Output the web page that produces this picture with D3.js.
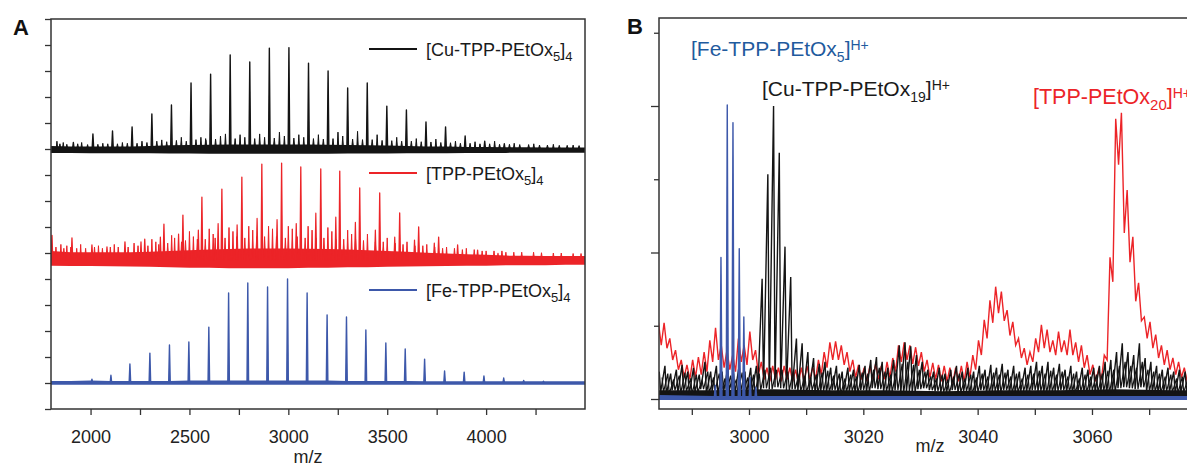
<!DOCTYPE html>
<html><head><meta charset="utf-8">
<script src="https://cdn.jsdelivr.net/npm/d3@7"></script>
<style>body{margin:0;background:#fff}svg{display:block}</style>
</head><body><svg id="c" width="1187" height="467"></svg>
<script>
// ================= Panel A data =================
const aXTicks = [2000, 2250, 2500, 2750, 3000, 3250, 3500, 3750, 4000, 4250];
const aXLabels = [2000, 2500, 3000, 3500, 4000];
const aYTicks = [0,1,2,3,4,5,6,7,8,9,10,11,12,13,14,15];
const aBandMz = [1800,1900,2000,2100,2200,2300,2400,2500,2600,2700,2800,2900,3000,3100,3200,3300,3400,3500,3600,3700,3800,3900,4000,4100,4200,4300,4400,4500];

// [Cu-TPP-PEtOx5]4 (black)
const cuMz  = [1913,2012,2111,2210,2310,2409,2508,2607,2706,2805,2904,3003,3102,3201,3300,3399,3498,3597,3696,3795,3894,3993,4092];
const cuInt = [0.25,0.58,0.69,0.85,1.35,1.69,2.54,2.88,3.62,3.35,3.88,3.9,3.3,3.0,2.35,2.54,1.65,1.5,1.04,0.85,0.5,0.3,0.2];
const cuMinorMz  = [1830,1862,1955,2062,2161,2260,2360,2459,2558,2582,2657,2682,2756,2780,2855,2880,2955,2980,3053,3078,3152,3251,3275,3350,3449,3548,3647,3746,3845,3944,4043,4142,4241,4340,4440];
const cuMinorInt = [0.3,0.25,0.25,0.22,0.25,0.3,0.35,0.45,0.45,0.4,0.5,0.58,0.55,0.45,0.58,0.45,0.65,0.5,0.55,0.45,0.55,0.65,0.5,0.68,0.55,0.45,0.4,0.38,0.3,0.28,0.3,0.22,0.2,0.18,0.15];
const cuNoiseMz  = [1845,1880,1935,1985,2037,2087,2136,2186,2235,2285,2335,2385,2434,2484,2533,2583,2632,2731,2830,2929,3028,3127,3177,3226,3325,3375,3424,3474,3523,3573,3622,3672,3721,3771,3820,3870,3919,3969,4018,4068,4118,4170,4215,4270,4310,4370,4410,4470];
const cuNoiseInt = [0.2,0.18,0.2,0.17,0.18,0.2,0.2,0.22,0.22,0.25,0.3,0.28,0.33,0.3,0.36,0.34,0.38,0.4,0.4,0.42,0.42,0.4,0.38,0.4,0.38,0.36,0.36,0.33,0.32,0.3,0.3,0.28,0.27,0.25,0.24,0.22,0.22,0.2,0.2,0.18,0.18,0.17,0.17,0.15,0.15,0.14,0.14,0.13];
const cuBandHi = [0.12,0.1,0.1,0.1,0.1,0.12,0.14,0.15,0.16,0.17,0.17,0.17,0.17,0.17,0.16,0.15,0.14,0.13,0.12,0.1,0.1,0.08,0.08,0.07,0.07,0.06,0.06,0.06];
const cuBandLo = [-0.15,-0.15,-0.16,-0.16,-0.16,-0.16,-0.17,-0.17,-0.18,-0.18,-0.18,-0.18,-0.18,-0.18,-0.18,-0.17,-0.17,-0.17,-0.16,-0.16,-0.16,-0.15,-0.15,-0.15,-0.14,-0.14,-0.14,-0.14];

// [TPP-PEtOx5]4 (red)
const tppMz  = [1805,1906,2007,2083,2174,2274,2371,2467,2563,2664,2765,2866,2966,3063,3164,3260,3361,3462,3563,3659,3760,3856,3957,4060];
const tppInt = [0.95,0.85,0.58,0.5,0.7,0.8,1.38,1.73,2.42,2.73,3.19,3.69,3.73,3.58,3.5,3.42,2.77,2.58,1.81,1.27,0.88,0.58,0.38,0.25];
const tppSatMz  = [2255,2353,2445,2545,2645,2741,2842,2943,3040,3139,3240,3339,3440,3538,3638,3738];
const tppSatInt = [0.7,0.88,1.0,1.15,1.4,1.35,1.6,1.55,1.4,1.8,1.65,1.45,1.15,0.88,0.77,0.65];
const tppMinorMz  = [1850,1880,1950,2040,2120,2220,2310,2330,2410,2425,2500,2520,2600,2620,2700,2720,2800,2820,2900,2920,3000,3020,3100,3120,3200,3220,3300,3320,3400,3500,3600,3700,3800,3900,4000,4100];
const tppMinorInt = [0.6,0.55,0.6,0.55,0.6,0.65,0.8,0.7,0.95,0.85,1.1,0.9,1.2,1.0,1.25,1.1,1.3,1.15,1.3,1.2,1.3,1.2,1.3,1.15,1.25,1.1,1.15,1.0,1.0,0.85,0.7,0.6,0.5,0.45,0.35,0.3];
const tppNoiseMz  = [1825,1865,1900,1930,1975,2020,2060,2100,2140,2190,2240,2290,2345,2390,2460,2480,2540,2580,2630,2680,2740,2780,2840,2880,2940,2985,3045,3085,3140,3180,3240,3280,3340,3380,3440,3480,3540,3580,3640,3680,3740,3780,3840,3880,3940,3980,4040,4080,4140,4180,4240,4280,4340,4380,4440,4480];
const tppNoiseInt = [0.5,0.45,0.5,0.45,0.45,0.5,0.45,0.5,0.5,0.5,0.55,0.55,0.6,0.65,0.7,0.75,0.8,0.8,0.85,0.85,0.9,0.85,0.9,0.9,0.9,0.85,0.9,0.85,0.85,0.85,0.8,0.8,0.8,0.75,0.7,0.7,0.65,0.6,0.55,0.55,0.5,0.45,0.45,0.4,0.4,0.35,0.35,0.35,0.3,0.3,0.3,0.28,0.27,0.27,0.25,0.25];
const tppBandHi = [0.35,0.3,0.3,0.3,0.3,0.32,0.35,0.38,0.4,0.42,0.44,0.44,0.44,0.43,0.42,0.4,0.38,0.35,0.32,0.28,0.25,0.22,0.2,0.17,0.16,0.15,0.15,0.15];
const tppBandLo = [-0.22,-0.23,-0.23,-0.24,-0.25,-0.26,-0.28,-0.3,-0.3,-0.32,-0.32,-0.32,-0.32,-0.3,-0.3,-0.28,-0.28,-0.26,-0.25,-0.24,-0.23,-0.22,-0.22,-0.2,-0.2,-0.2,-0.18,-0.18];

// [Fe-TPP-PEtOx5]4 (blue)
const feMz  = [2007,2103,2199,2300,2399,2497,2598,2698,2795,2895,2996,3095,3196,3294,3392,3493,3591,3689,3790,3889,3989,4089,4190,4290];
const feInt = [0.15,0.3,0.73,1.15,1.46,1.58,2.15,3.46,3.85,3.69,4.0,3.46,2.62,2.54,2.04,1.54,1.31,0.92,0.46,0.42,0.27,0.19,0.1,0.07];
const feBandHi = [0.08,0.08,0.1,0.08,0.08,0.08,0.08,0.1,0.1,0.1,0.1,0.1,0.1,0.1,0.1,0.08,0.08,0.08,0.08,0.07,0.07,0.07,0.07,0.07,0.07,0.07,0.07,0.07];
const feBandLo = [-0.07,-0.07,-0.07,-0.07,-0.07,-0.07,-0.07,-0.07,-0.07,-0.07,-0.07,-0.07,-0.07,-0.07,-0.07,-0.07,-0.07,-0.07,-0.07,-0.07,-0.07,-0.07,-0.07,-0.07,-0.07,-0.07,-0.07,-0.07];

// ================= Panel B data =================
const bXTicks = [2990, 3000, 3010, 3020, 3030, 3040, 3050, 3060, 3070, 3080];
const bXLabels = [3000, 3020, 3040, 3060];
const bYMajor = [0, 150, 300];
const bYMinor = [75, 225, 375];
const bMz = [2984,2985,2986,2987,2988,2989,2990,2991,2992,2993,
             2994,2995,2996,2997,2998,2999,3000,3001,3002,3003,
             3004,3005,3006,3007,3008,3009,3010,3011,3012,3013,
             3014,3015,3016,3017,3018,3019,3020,3021,3022,3023,
             3024,3025,3026,3027,3028,3029,3030,3031,3032,3033,
             3034,3035,3036,3037,3038,3039,3040,3041,3042,3043,
             3044,3045,3046,3047,3048,3049,3050,3051,3052,3053,
             3054,3055,3056,3057,3058,3059,3060,3061,3062,3063,
             3064,3065,3066,3067,3068,3069,3070,3071,3072,3073,
             3074,3075,3076,3077];
const redBTop = [79,78,62,50,40,35,40,43,48,60,
                 73,55,50,45,62,55,69,50,38,32,
                 34,32,34,32,30,32,34,33,40,48,
                 58,59,55,48,40,35,32,34,36,34,
                 38,42,55,58,55,53,48,40,37,35,
                 34,32,32,34,38,45,60,81,101,115,
                 110,91,79,62,52,48,62,76,71,60,
                 69,60,71,58,55,45,35,30,45,145,
                 287,293,214,166,119,84,79,66,55,50,
                 42,38,32,30];
const redBTrough = [55,52,40,30,22,20,22,25,28,38,
                    40,32,30,28,38,35,40,25,20,18,
                    20,18,20,18,16,18,20,20,25,32,
                    40,40,35,28,22,20,18,20,20,20,
                    22,28,38,40,36,34,28,22,20,18,
                    18,16,18,18,22,30,45,62,78,88,
                    80,65,55,42,35,38,48,52,48,45,
                    48,45,45,38,32,25,18,20,40,120,
                    240,170,140,100,80,62,52,42,35,30,
                    25,22,18,18];
const cuBTop = [28,34,26,30,35,28,32,25,38,28,
                34,28,32,26,35,28,32,34,123,230,
                300,252,156,125,62,57,48,42,36,38,
                32,34,28,32,30,35,34,40,43,38,
                32,40,55,58,54,45,38,30,28,32,
                26,30,34,28,32,28,34,30,35,32,
                36,30,34,28,32,34,38,34,38,32,
                36,30,34,28,32,30,32,34,38,40,
                48,57,48,45,57,42,38,34,30,32,
                28,30,28,28];
const cuBTrough = [7,5,9,6,8,5,7,10,6,8,
                   5,7,9,6,8,5,7,9,11,10,
                   12,11,9,10,8,7,9,6,8,7,
                   9,5,7,8,6,9,7,11,10,8,
                   7,9,6,8,7,10,11,9,8,7,
                   6,9,7,8,5,7,9,6,8,7,
                   9,6,7,8,7,9,8,6,7,8,
                   9,7,6,8,7,9,7,8,6,7,
                   11,12,11,10,12,8,7,6,8,7,
                   6,7,8,7];
const cuBMidTop = [22,26,20,24,27,21,25,19,28,22,
                   26,21,24,20,27,22,25,26,30,32,
                   30,30,28,30,26,24,22,25,27,29,
                   24,26,21,25,23,27,26,30,32,28,
                   25,30,36,38,35,30,28,23,21,25,
                   20,23,26,21,25,22,26,23,27,25,
                   27,23,26,21,25,26,29,26,29,25,
                   28,23,26,21,25,23,25,26,29,30,
                   34,38,34,32,38,30,28,26,23,25,
                   21,23,21,21];
const bBandMz = [2984,2994,3004,3014,3024,3034,3044,3054,3064,3074,3084];
const cuBBandHi = [9,9,10,9,9,8,9,9,10,9,9];
const cuBBandLo = [0,0,0,0,0,0,0,0,0,0,0];
const feBBandHi = [4,3,3,3,3,3,3,3,3,3,3];
const feBBandLo = [-1,-1,-1,-1,-1,-1,-1,-1,-1,-1,-1];
const feBPeakMz  = [2994.1,2995.1,2996.2,2997.2,2998.3,2999.1,3000.2,3001.2];
const feBPeakInt = [14,145,301,283,154,84,22,12];

// ================= drawing =================
const font = '"Liberation Sans", Arial, Helvetica, sans-serif';
const BLACK = "#141414", RED = "#ec2428", BLUE = "#3d58aa", FEBLUE = "#1f5b9e";
const svg = d3.select("#c").attr("font-family", font);

function drawBand(g, mz, hi, lo, off, color, xs, ys) {
  const area = d3.area().x((d, i) => xs(mz[i])).y0((d, i) => ys(off + lo[i])).y1((d, i) => ys(off + hi[i]));
  g.append("path").datum(mz).attr("d", area).attr("fill", color);
}
function drawPeaks(g, mz, ints, off, hw, color, sw, xs, ys) {
  const line = d3.line();
  g.append("g").selectAll("path").data(mz).join("path")
    .attr("d", (m, i) => line([[xs(m - hw), ys(off)], [xs(m), ys(off + ints[i])], [xs(m + hw), ys(off)]]))
    .attr("fill", color).attr("stroke", color).attr("stroke-width", sw).attr("stroke-linejoin", "round");
}
function chem(g, x, y, parts, size, color) {
  const t = g.append("text").attr("x", x).attr("y", y).attr("font-size", size).attr("fill", color);
  parts.forEach(p => t.append("tspan").text(p.t).attr("font-size", p.s || size).attr("dy", p.dy || 0));
  return t;
}

// ---------- Panel A ----------
const xA = d3.scaleLinear().domain([1800, 4500]).range([51, 585]);
const yA = d3.scaleLinear().domain([0, 15]).range([409, 19]);
const offCu = 10, offTpp = 5.73, offFe = 1;
svg.append("clipPath").attr("id", "clipA").append("rect").attr("x", 51).attr("y", 19).attr("width", 534).attr("height", 390);
const gA = svg.append("g").attr("clip-path", "url(#clipA)");

drawBand(gA, aBandMz, tppBandHi, tppBandLo, offTpp, RED, xA, yA);
drawPeaks(gA, tppNoiseMz, tppNoiseInt, offTpp, 5, RED, 1, xA, yA);
drawPeaks(gA, tppMinorMz, tppMinorInt, offTpp, 4, RED, 1, xA, yA);
drawPeaks(gA, tppSatMz, tppSatInt, offTpp, 4, RED, 1.2, xA, yA);
drawPeaks(gA, tppMz, tppInt, offTpp, 4, RED, 1.3, xA, yA);

drawBand(gA, aBandMz, cuBandHi, cuBandLo, offCu, BLACK, xA, yA);
drawPeaks(gA, cuNoiseMz, cuNoiseInt, offCu, 5, BLACK, 1, xA, yA);
drawPeaks(gA, cuMinorMz, cuMinorInt, offCu, 4, BLACK, 1, xA, yA);
drawPeaks(gA, cuMz, cuInt, offCu, 4, BLACK, 1.4, xA, yA);

drawBand(gA, aBandMz, feBandHi, feBandLo, offFe, BLUE, xA, yA);
drawPeaks(gA, feMz, feInt, offFe, 4, BLUE, 1.4, xA, yA);

const axAx = svg.append("g").attr("transform", "translate(0,409)")
  .call(d3.axisBottom(xA).tickValues(aXTicks).tickSize(6).tickPadding(15).tickFormat(d => aXLabels.includes(d) ? d : ""));
const axAy = svg.append("g").attr("transform", "translate(51,0)")
  .call(d3.axisLeft(yA).tickValues(aYTicks).tickSize(6).tickFormat(""));
[axAx, axAy].forEach(a => {
  a.select(".domain").remove();
  a.selectAll("line").attr("stroke", "#333").attr("stroke-width", 1.3);
  a.selectAll("text").attr("font-size", 18).attr("font-family", font).attr("fill", "#222");
});
svg.append("rect").attr("x", 51).attr("y", 19).attr("width", 534).attr("height", 390)
  .attr("fill", "none").attr("stroke", "#333").attr("stroke-width", 1.5);

// legends A
const legA = [
  {y: 49, c: BLACK, parts: [{t: "[Cu-TPP-PEtOx"}, {t: "5", s: 13, dy: 5}, {t: "]", dy: -5}, {t: "4", s: 13, dy: 5}]},
  {y: 173, c: RED, parts: [{t: "[TPP-PEtOx"}, {t: "5", s: 13, dy: 5}, {t: "]", dy: -5}, {t: "4", s: 13, dy: 5}]},
  {y: 290, c: BLUE, parts: [{t: "[Fe-TPP-PEtOx"}, {t: "5", s: 13, dy: 5}, {t: "]", dy: -5}, {t: "4", s: 13, dy: 5}]}
];
legA.forEach(l => {
  svg.append("line").attr("x1", 369).attr("x2", 417).attr("y1", l.y).attr("y2", l.y).attr("stroke", l.c).attr("stroke-width", 2);
  chem(svg, 426, l.y + 7, l.parts, 18, "#1a1a1a");
});
svg.append("text").attr("x", 308).attr("y", 463).attr("text-anchor", "middle").attr("font-size", 18).attr("fill", "#222").text("m/z");
svg.append("text").attr("x", 13).attr("y", 35).attr("font-size", 22).attr("font-weight", "bold").attr("fill", "#111").text("A");

// ---------- Panel B ----------
const bL = 659, bT = 18, bB = 409;
const xB = d3.scaleLinear().domain([2984.26, 3080]).range([bL, bL + (3080 - 2984.26) * 5.7167]);
const yB = d3.scaleLinear().domain([-10.24, 390.1]).range([bB, bT]);
svg.append("clipPath").attr("id", "clipB").append("rect").attr("x", bL).attr("y", bT).attr("width", 1187 - bL).attr("height", bB - bT);
const gB = svg.append("g").attr("clip-path", "url(#clipB)");

function zigzag(mz, tops, troughs, p1, p2) {
  const pts = [];
  mz.forEach((m, i) => { pts.push([xB(m + p1), yB(tops[i])]); pts.push([xB(m + p2), yB(troughs[i])]); });
  return d3.line()(pts);
}
gB.append("path").attr("d", zigzag(bMz, redBTop, redBTrough, 0.15, 0.65)).attr("fill", "none").attr("stroke", RED).attr("stroke-width", 1.4);
drawBand(gB, bBandMz, cuBBandHi, cuBBandLo, 0, BLACK, xB, yB);
gB.append("path").attr("d", zigzag(bMz, cuBMidTop, cuBTrough, 0.8, 1.05)).attr("fill", "none").attr("stroke", BLACK).attr("stroke-width", 1.2);
gB.append("path").attr("d", zigzag(bMz, cuBTop, cuBTrough, 0.3, 0.55)).attr("fill", "none").attr("stroke", BLACK).attr("stroke-width", 1.4);
drawBand(gB, bBandMz, feBBandHi, feBBandLo, 0, BLUE, xB, yB);
drawPeaks(gB, feBPeakMz, feBPeakInt, 0, 0.18, BLUE, 1.4, xB, yB);

const axBx = svg.append("g").attr("transform", `translate(0,${bB})`)
  .call(d3.axisBottom(xB).tickValues(bXTicks).tickSize(6).tickPadding(15).tickFormat(d => bXLabels.includes(d) ? d : ""));
const axByMaj = svg.append("g").attr("transform", `translate(${bL},0)`)
  .call(d3.axisLeft(yB).tickValues(bYMajor).tickSize(8).tickFormat(""));
const axByMin = svg.append("g").attr("transform", `translate(${bL},0)`)
  .call(d3.axisLeft(yB).tickValues(bYMinor).tickSize(5).tickFormat(""));
[axBx, axByMaj, axByMin].forEach(a => {
  a.select(".domain").remove();
  a.selectAll("line").attr("stroke", "#333").attr("stroke-width", 1.3);
  a.selectAll("text").attr("font-size", 18).attr("font-family", font).attr("fill", "#222");
});
svg.append("path").attr("d", `M1190,${bT}H${bL}V${bB}H1190`).attr("fill", "none").attr("stroke", "#333").attr("stroke-width", 1.5);

chem(svg, 691, 56, [{t: "[Fe-TPP-PEtOx"}, {t: "5", s: 14, dy: 6}, {t: "]", dy: -6}, {t: "H+", s: 14, dy: -6}], 21, FEBLUE);
chem(svg, 762, 96, [{t: "[Cu-TPP-PEtOx"}, {t: "19", s: 14, dy: 6}, {t: "]", dy: -6}, {t: "H+", s: 14, dy: -6}], 21, "#1a1a1a");
chem(svg, 1033, 104, [{t: "[TPP-PEtOx"}, {t: "20", s: 15, dy: 6}, {t: "]", dy: -6}, {t: "H+", s: 14, dy: -6}], 21.5, RED);
svg.append("text").attr("x", 930).attr("y", 452).attr("text-anchor", "middle").attr("font-size", 18).attr("fill", "#222").text("m/z");
svg.append("text").attr("x", 627).attr("y", 34).attr("font-size", 22).attr("font-weight", "bold").attr("fill", "#111").text("B");
</script></body></html>
